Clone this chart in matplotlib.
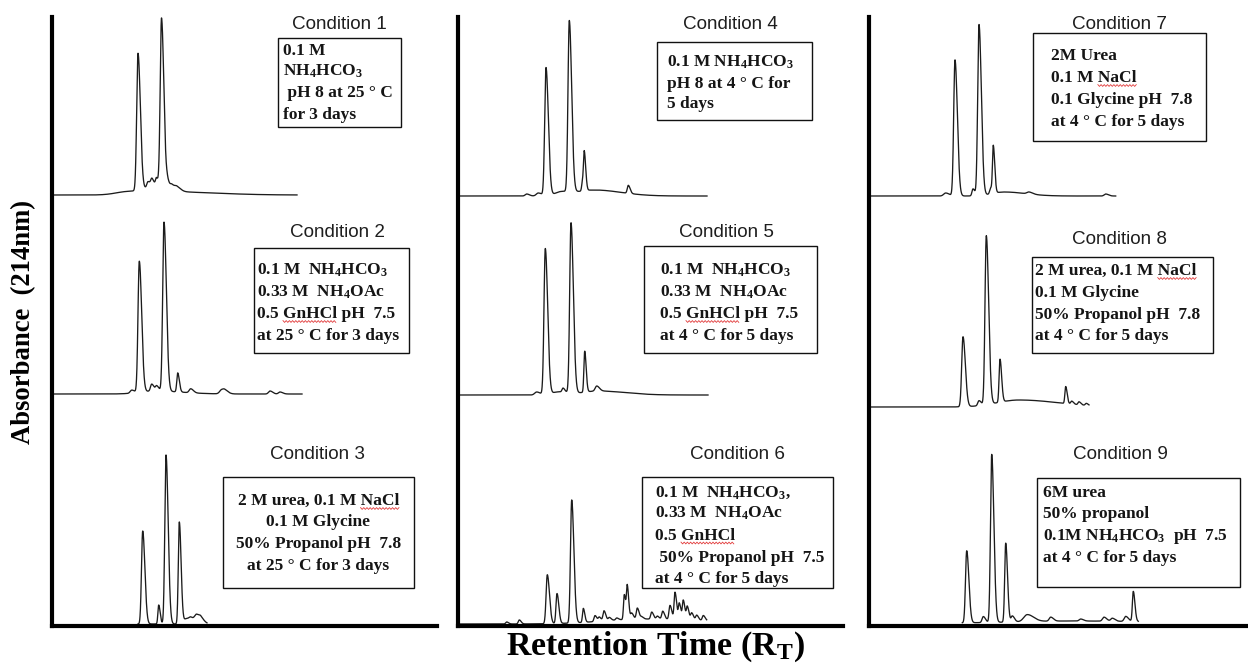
import numpy as np
import matplotlib
matplotlib.use("Agg")
import matplotlib.pyplot as plt
from matplotlib.patches import Rectangle
from matplotlib.lines import Line2D

plt.rcParams["mathtext.fontset"] = "custom"
plt.rcParams["mathtext.rm"] = "Liberation Serif:bold"
plt.rcParams["mathtext.bf"] = "Liberation Serif:bold"
plt.rcParams["mathtext.it"] = "Liberation Serif:bold"

# ---------------------------------------------------------------------------
# Chromatogram peak tables: (retention time [min], height [mAU], width [min])
# ---------------------------------------------------------------------------
peaks_1 = [(7.6, 3, 1.2), (8.6, 137, 0.13), (9.6, 6, 0.12), (10.0, 8, 0.12),
           (10.45, 9, 0.1), (10.0, 4, 0.8), (10.95, 170, 0.13), (11.55, 8, 0.12),
           (12.0, 5, 0.15), (12.5, 4, 0.2), (12.0, 3, 2.5)]
peaks_2 = [(7.97, 3, 0.15), (8.73, 131, 0.13), (9.97, 7, 0.12), (10.47, 5, 0.12),
           (10.3, 3, 1.5), (11.2, 169, 0.13), (12.57, 19, 0.09), (13.87, 4, 0.15),
           (16.97, 4, 0.2), (17.3, 2, 0.2), (21.8, 3, 0.15), (22.8, 2, 0.15)]
peaks_3 = [(9.07, 93, 0.12), (10.67, 19, 0.08), (11.4, 169, 0.12), (12.73, 102, 0.1),
           (13.4, 5, 0.2), (13.9, 5, 0.2), (14.47, 8, 0.2), (14.9, 4, 0.2)]
peaks_4 = [(6.87, 2, 0.15), (8.03, 3, 0.2), (8.8, 128, 0.13), (10.3, 4, 0.6),
           (11.13, 171, 0.13), (12.45, 9, 0.08), (12.63, 36, 0.08), (13.6, 6, 1.5),
           (17.03, 8, 0.1)]
peaks_5 = [(7.87, 3, 0.2), (8.73, 146, 0.13), (10.0, 3, 0.6), (10.5, 4, 0.1),
           (11.3, 170, 0.13), (12.67, 41, 0.08), (13.87, 5, 0.15), (14.0, 4, 1.5)]
peaks_6 = [(4.87, 2, 0.1), (6.13, 4, 0.1), (8.93, 49, 0.12), (9.9, 30, 0.1),
           (11.37, 123, 0.12), (12.53, 14, 0.08), (13.7, 6, 0.1), (14.13, 4, 0.1),
           (14.6, 10, 0.1), (15.13, 3, 0.1), (15.87, 2, 0.1), (16.63, 25, 0.08),
           (16.93, 32, 0.08), (17.37, 6, 0.1), (17.93, 11, 0.1), (18.37, 2, 0.1),
           (19.37, 7, 0.1), (19.93, 3, 0.1), (20.47, 8, 0.1), (21.2, 14, 0.1),
           (21.7, 27, 0.09), (22.13, 16, 0.09), (22.53, 19, 0.09), (22.93, 13, 0.09),
           (23.37, 7, 0.1), (23.87, 5, 0.1), (24.53, 5, 0.1), (18.5, 5, 4.0)]
peaks_7 = [(7.67, 3, 0.2), (8.6, 136, 0.13), (10.4, 7, 0.1), (11.0, 171, 0.13),
           (12.17, 6, 0.1), (12.43, 46, 0.08), (13.5, 4, 1.2), (16.0, 2, 0.2),
           (23.67, 2, 0.15)]
peaks_8 = [(9.4, 70, 0.13), (11.0, 5, 0.12), (11.73, 169, 0.13), (13.1, 43, 0.09),
           (15.0, 7, 2.2), (19.67, 17, 0.08), (20.27, 3, 0.1), (21.0, 3, 0.1),
           (21.73, 2, 0.1)]
peaks_9 = [(9.77, 72, 0.12), (11.43, 6, 0.12), (12.27, 168, 0.12), (13.67, 79, 0.1),
           (14.33, 6, 0.12), (15.83, 7, 0.35), (18.17, 4, 0.15), (21.17, 2, 0.15),
           (23.5, 4, 0.15), (24.33, 3, 0.15), (25.67, 5, 0.15), (26.43, 30, 0.09),
           (20.0, 2, 5.0)]

# recorded time window of each run [min]
run_windows = [(0, 24.5), (0, 25.0), (8.6, 15.5),
               (0, 24.9), (0, 25.0), (0, 24.87),
               (0, 24.67), (0, 22.0), (9.33, 26.93)]

condition_titles = [f"Condition {i}" for i in range(1, 10)]

buffer_lines = [
    ["0.1 M", r"NH$_\mathbf{4}$HCO$_\mathbf{3}$", " pH 8 at 25 ° C", "for 3 days"],
    [r"0.1 M  NH$_\mathbf{4}$HCO$_\mathbf{3}$", r"0.33 M  NH$_\mathbf{4}$OAc",
     "0.5 GnHCl pH  7.5", "at 25 ° C for 3 days"],
    ["2 M urea, 0.1 M NaCl", "0.1 M Glycine", "50% Propanol pH  7.8",
     "at 25 ° C for 3 days"],
    [r"0.1 M NH$_\mathbf{4}$HCO$_\mathbf{3}$", "pH 8 at 4 ° C for", "5 days"],
    [r"0.1 M  NH$_\mathbf{4}$HCO$_\mathbf{3}$", r"0.33 M  NH$_\mathbf{4}$OAc",
     "0.5 GnHCl pH  7.5", "at 4 ° C for 5 days"],
    [r"0.1 M  NH$_\mathbf{4}$HCO$_\mathbf{3}$,", r"0.33 M  NH$_\mathbf{4}$OAc",
     "0.5 GnHCl", " 50% Propanol pH  7.5", "at 4 ° C for 5 days"],
    ["2M Urea", "0.1 M NaCl", "0.1 Glycine pH  7.8", "at 4 ° C for 5 days"],
    ["2 M urea, 0.1 M NaCl", "0.1 M Glycine", "50% Propanol pH  7.8",
     "at 4 ° C for 5 days"],
    ["6M urea", "50% propanol", r"0.1M NH$_\mathbf{4}$HCO$_\mathbf{3}$  pH  7.5",
     "at 4 ° C for 5 days"],
]
# words flagged by the spell checker: (condition index, line index, word)
flagged_words = [(1, 2, "GnHCl"), (2, 0, "NaCl"), (4, 2, "GnHCl"),
                 (5, 2, "GnHCl"), (6, 1, "NaCl"), (7, 0, "NaCl")]

all_peaks = [peaks_1, peaks_2, peaks_3, peaks_4, peaks_5,
             peaks_6, peaks_7, peaks_8, peaks_9]

# ---------------------------------------------------------------------------
W, H = 1248, 664
fig = plt.figure(figsize=(W / 100, H / 100), dpi=100)
fig.patch.set_facecolor("white")


def fx(px):
    return px / W


def fy(py):
    return 1 - py / H


def trace(peaks, t0, t1):
    t = np.arange(t0, t1 + 1e-9, 0.01)
    y = np.zeros_like(t)
    for rt, h, w in peaks:
        sig = np.where(t < rt, w, w * 1.8)
        y += h * np.exp(-0.5 * ((t - rt) / sig) ** 2)
    return t, y


# column axes (pixel extents) and baseline offset of each stacked run
col_px = [(52, 437), (458, 843), (869, 1248)]
ax_top, ax_bot = 17, 626
offsets = [[431, 232, 2], [430, 231, 2], [430, 219, 3]]

for c, (x0, x1) in enumerate(col_px):
    ax = fig.add_axes([fx(x0), fy(ax_bot), fx(x1 - x0), (ax_bot - ax_top) / H])
    ax.set_xlim(0, (x1 - x0) / 10)
    ax.set_ylim(0, ax_bot - ax_top)
    for s in ("top", "right"):
        ax.spines[s].set_visible(False)
    for s in ("left", "bottom"):
        ax.spines[s].set_linewidth(3.0)
        ax.spines[s].set_color("black")
        ax.spines[s].set_zorder(5)
    ax.set_xticks([])
    ax.set_yticks([])
    ax.patch.set_alpha(0)
    for r in range(3):
        k = c * 3 + r
        t, y = trace(all_peaks[k], *run_windows[k])
        ax.plot(t, y + offsets[c][r], color="#1c1c1c", lw=0.95,
                solid_joinstyle="round", clip_on=False)

# condition titles: (centre x, baseline y)
title_pos = [(339, 29), (338, 237), (318, 459),
             (730, 29), (726, 237), (737, 459),
             (1120, 29), (1120, 244), (1120, 459)]
# boxes: (left, right, top, bottom)
box_px = [(278, 401, 38, 127), (254, 409, 248, 353), (223, 414, 477, 588),
          (657, 812, 42, 120), (644, 817, 246, 353), (642, 833, 477, 588),
          (1033, 1206, 33, 141), (1032, 1213, 257, 353), (1037, 1240, 478, 587)]
# text anchor x and baselines of each box's lines
text_x = [283, 257, 318.5, 667, 660, 655, 1051, 1035, 1043]
text_ha = ["left", "left", "center", "left", "left", "left", "left", "left", "left"]
baselines = [[55, 76, 97, 119], [275, 296.5, 318, 340], [505, 526.5, 548, 570],
             [67, 87.5, 108], [275, 297, 318, 340], [497, 518, 539.5, 561.5, 583],
             [60, 82, 104, 126], [275, 297, 319, 340], [497, 518.5, 540, 562]]

serif = dict(family="Liberation Serif", weight="bold", fontsize=12.5, color="#151515")

line_artists = {}
for k in range(9):
    tx, tyb = title_pos[k]
    fig.text(fx(tx), fy(tyb), condition_titles[k], family="Liberation Sans",
             fontsize=13.6, color="#1e1e1e", ha="center", va="baseline")
    l, r, t, b = box_px[k]
    fig.patches.append(Rectangle((fx(l), fy(b)), fx(r - l), (b - t) / H,
                                 transform=fig.transFigure, fill=True,
                                 facecolor="white", edgecolor="#111111", lw=1.0,
                                 zorder=3))
    for j, line in enumerate(buffer_lines[k]):
        txt = fig.text(fx(text_x[k]), fy(baselines[k][j]), line, ha=text_ha[k],
                       va="baseline", zorder=4, **serif)
        line_artists[(k, j)] = txt

# y and x axis titles
fig.text(fx(24), fy(322), "Absorbance  (214nm)", family="Liberation Serif",
         weight="bold", fontsize=19.2, rotation=90, ha="center", va="center")
fig.text(fx(655), fy(655), r"Retention Time (R$_\mathbf{T}$)",
         family="Liberation Serif", weight="bold", fontsize=24.5,
         ha="center", va="baseline")

# red wavy underline beneath flagged words
renderer = fig.canvas.get_renderer()


def width_of(s):
    tmp = fig.text(0, 0, s, **serif)
    w = tmp.get_window_extent(renderer).width
    tmp.remove()
    return w


for k, j, word in flagged_words:
    txt = line_artists[(k, j)]
    line = buffer_lines[k][j]
    bb = txt.get_window_extent(renderer)
    i = line.index(word)
    end = bb.x0 + width_of(line[:i + len(word)].lstrip())
    start = end - width_of(word)
    ybase = H - (baselines[k][j] + 3.5)
    xs = np.arange(start, end + 0.1, 1.6)
    ys = ybase + np.where(np.arange(len(xs)) % 2 == 0, 0.9, -0.9)
    fig.add_artist(Line2D(xs / W, ys / H, transform=fig.transFigure,
                          color="#e23b3b", lw=0.6, zorder=6))

fig.savefig("out.png", dpi=100, facecolor="white")
